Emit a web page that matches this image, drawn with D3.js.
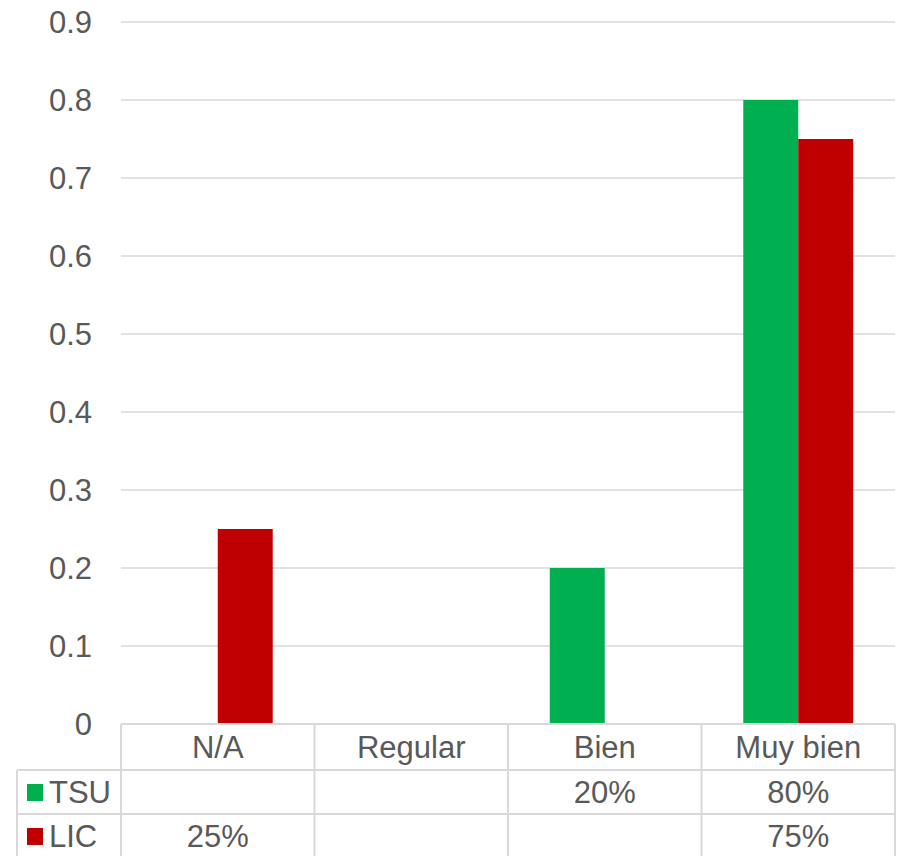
<!DOCTYPE html>
<html>
<head>
<meta charset="utf-8">
<script src="https://cdn.jsdelivr.net/npm/d3@7"></script>
<style>
  body { margin: 0; background: #fff; }
  svg { display: block; font-family: "Liberation Sans", Arial, sans-serif; }
</style>
</head>
<body>
<div id="chart"></div>
<script>
// Chart data
const categories = ["N/A", "Regular", "Bien", "Muy bien"];
const seriesNames = ["TSU", "LIC"];
const tsuValues = [null, null, 0.2, 0.8];
const licValues = [0.25, null, null, 0.75];
const yTicks = [0, 0.1, 0.2, 0.3, 0.4, 0.5, 0.6, 0.7, 0.8, 0.9];
const seriesColors = ["#00b050", "#c00000"];

const width = 905, height = 856;
const plotLeft = 121, plotRight = 895, plotTop = 22, plotBottom = 724;
const tableLeft = 17;
const rowLines = [770, 814];
const textColor = "#595959";
const gridColor = "#d9d9d9";
const fontSize = "31px";

const svg = d3.select("#chart").append("svg")
    .attr("width", width)
    .attr("height", height);

const x0 = d3.scaleBand().domain(categories).range([plotLeft, plotRight]).paddingInner(0).paddingOuter(0);
const x1 = d3.scaleBand().domain(seriesNames).range([0, x0.bandwidth()]).paddingInner(0).paddingOuter(0.76);
const y = d3.scaleLinear().domain([0, 0.9]).range([plotBottom, plotTop]);

// gridlines
svg.append("g")
    .selectAll("line")
    .data(yTicks.filter(d => d > 0))
    .enter().append("line")
    .attr("x1", plotLeft).attr("x2", plotRight)
    .attr("y1", d => y(d)).attr("y2", d => y(d))
    .attr("stroke", gridColor).attr("stroke-width", 1.5);

// y tick labels
svg.append("g")
    .selectAll("text")
    .data(yTicks)
    .enter().append("text")
    .attr("x", 92)
    .attr("y", d => y(d))
    .attr("dy", "0.35em")
    .attr("text-anchor", "end")
    .attr("fill", textColor)
    .style("font-size", fontSize)
    .text(d => d === 0 ? "0" : d3.format(".1f")(d));

// bars
const seriesData = [tsuValues, licValues];
seriesNames.forEach((name, si) => {
    svg.append("g")
        .selectAll("rect")
        .data(categories.map((c, i) => ({ cat: c, value: seriesData[si][i] })).filter(d => d.value != null))
        .enter().append("rect")
        .attr("x", d => x0(d.cat) + x1(name))
        .attr("y", d => y(d.value))
        .attr("width", x1.bandwidth())
        .attr("height", d => y(0) - y(d.value))
        .attr("fill", seriesColors[si]);
});

// data table
const table = svg.append("g").attr("stroke", gridColor).attr("stroke-width", 2);
table.append("line").attr("x1", plotLeft).attr("x2", plotRight).attr("y1", plotBottom).attr("y2", plotBottom);
rowLines.forEach(ry => {
    table.append("line").attr("x1", tableLeft).attr("x2", plotRight).attr("y1", ry).attr("y2", ry);
});
const bounds = categories.map(c => x0(c)).concat([plotRight]);
bounds.forEach(bx => {
    table.append("line").attr("x1", bx).attr("x2", bx).attr("y1", plotBottom).attr("y2", height);
});
table.append("line").attr("x1", tableLeft).attr("x2", tableLeft).attr("y1", rowLines[0]).attr("y2", height);

// header labels
svg.append("g")
    .selectAll("text")
    .data(categories)
    .enter().append("text")
    .attr("x", d => x0(d) + x0.bandwidth() / 2)
    .attr("y", (plotBottom + rowLines[0]) / 2)
    .attr("dy", "0.35em")
    .attr("text-anchor", "middle")
    .attr("fill", textColor)
    .style("font-size", fontSize)
    .text(d => d);

// rows
const rowCenters = [(rowLines[0] + rowLines[1]) / 2, (rowLines[1] + height + 2) / 2];
const pct = d3.format(".0%");
seriesNames.forEach((name, si) => {
    const cy = rowCenters[si];
    svg.append("rect")
        .attr("x", 27).attr("y", cy - 8)
        .attr("width", 16).attr("height", 17)
        .attr("fill", seriesColors[si]);
    svg.append("text")
        .attr("x", 49).attr("y", cy)
        .attr("dy", "0.35em")
        .attr("fill", textColor)
        .style("font-size", fontSize)
        .text(name);
    svg.append("g")
        .selectAll("text")
        .data(categories.map((c, i) => ({ cat: c, value: seriesData[si][i] })).filter(d => d.value != null))
        .enter().append("text")
        .attr("x", d => x0(d.cat) + x0.bandwidth() / 2)
        .attr("y", cy)
        .attr("dy", "0.35em")
        .attr("text-anchor", "middle")
        .attr("fill", textColor)
        .style("font-size", fontSize)
        .text(d => pct(d.value));
});
</script>
</body>
</html>
